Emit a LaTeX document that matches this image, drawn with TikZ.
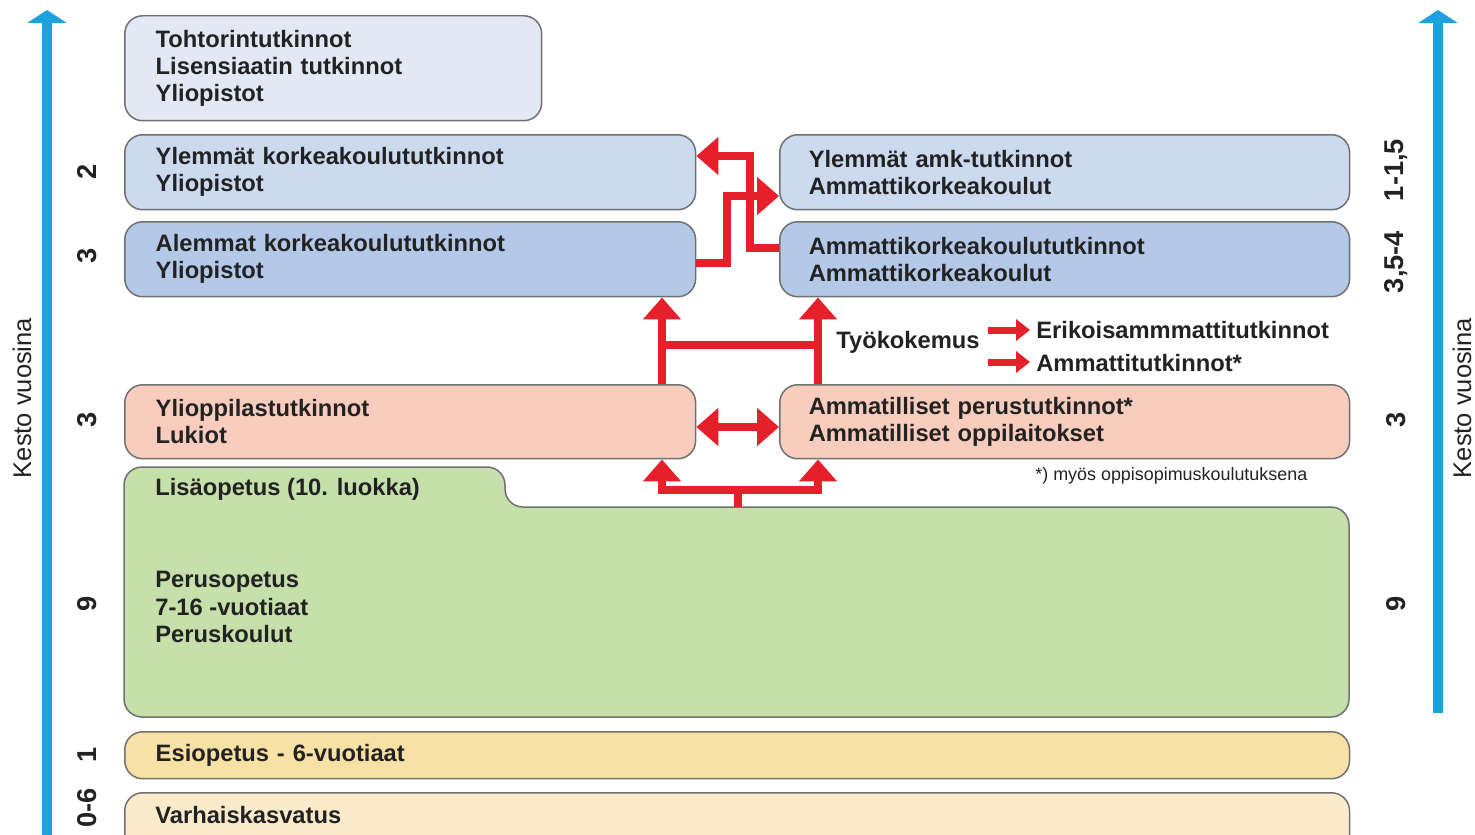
\documentclass[tikz,border=0pt]{standalone}
\usepackage{fontspec}
\setmainfont{Liberation Sans}
\usetikzlibrary{arrows.meta}
\definecolor{cTop}{HTML}{E3E8F5}
\definecolor{cYl}{HTML}{CCDAF0}
\definecolor{cAl}{HTML}{B4C8E8}
\definecolor{cPink}{HTML}{F9CDBE}
\definecolor{cGreen}{HTML}{C6E0AB}
\definecolor{cEsi}{HTML}{F8E1A4}
\definecolor{cVarh}{HTML}{FBEBCB}
\definecolor{cRed}{HTML}{E6202A}
\definecolor{cBlue}{HTML}{1AA3DE}
\definecolor{cBorder}{HTML}{707070}
\definecolor{cText}{HTML}{222222}
\tikzset{
  box/.style={draw=cBorder, line width=0.03cm, rounded corners=0.36cm, anchor=north west,
    inner xsep=0.62cm, inner ysep=0pt, align=left, text=cText,
    font=\fontsize{13.5}{15.4}\selectfont\bfseries},
  lbl/.style={text=cText, font=\fontsize{13.5}{15.4}\selectfont\bfseries, inner sep=0pt},
  num/.style={rotate=90, text=cText, font=\fontsize{15.5}{18}\selectfont\bfseries, inner sep=0pt},
  axis/.style={rotate=90, text=cText, font=\fontsize{14.5}{16}\selectfont, inner sep=0pt},
  redline/.style={draw=cRed, line width=0.16cm, line join=miter},
  redarr/.style={redline, -{Triangle[width=0.74cm,length=0.44cm]}},
  reddbl/.style={redline, {Triangle[width=0.74cm,length=0.44cm]}-{Triangle[width=0.74cm,length=0.44cm]}},
  smallarr/.style={draw=cRed, line width=0.14cm, -{Triangle[width=0.42cm,length=0.28cm]}},
  bluearr/.style={draw=cBlue, line width=0.19cm, -{Triangle[width=0.78cm,length=0.26cm]}},
}
\begin{document}
\begin{tikzpicture}[x=0.02cm, y=-0.02cm]
\useasboundingbox (0,0) rectangle (1475,835);
\clip (0,0) rectangle (1475,835);

% blue axes
\coordinate (axLb) at (47,850);
\coordinate (axLt) at (47,10);
\coordinate (axRb) at (1438,713);
\coordinate (axRt) at (1438,10);
\draw[bluearr] (axLb) -- (axLt);
\draw[bluearr] (axRb) -- (axRt);
\node[axis] (kestoL) at (22,398) {Kesto vuosina};
\node[axis] (kestoR) at (1462,398) {Kesto vuosina};

% left numbers
\node[num] (nL1) at (87,172) {2};
\node[num] (nL2) at (87,256) {3};
\node[num] (nL3) at (87,420) {3};
\node[num] (nL4) at (87,604) {9};
\node[num] (nL5) at (87,755) {1};
\node[num] (nL6) at (87,808) {0-6};
% right numbers
\node[num] (nR1) at (1396,170) {1-1,5};
\node[num] (nR2) at (1396,262) {3,5-4};
\node[num] (nR3) at (1396,420) {3};
\node[num] (nR4) at (1396,604) {9};

% boxes
\node[box, fill=cTop, text width=7.1cm, minimum height=2.1cm] (toht) at (124,15)
  {Tohtorintutkinnot\\Lisensiaatin tutkinnot\\Yliopistot};
\node[box, fill=cYl, text width=10.18cm, minimum height=1.5cm] (ylem) at (124,134)
  {Ylemmät korkeakoulututkinnot\\Yliopistot};
\node[box, fill=cAl, text width=10.18cm, minimum height=1.5cm] (alem) at (124,221)
  {Alemmat korkeakoulututkinnot\\Yliopistot};
\node[box, fill=cYl, text width=10.24cm, minimum height=1.5cm, inner xsep=0.58cm] (amkY) at (779,134)
  {Ylemmät amk-tutkinnot\\Ammattikorkeakoulut};
\node[box, fill=cAl, text width=10.24cm, minimum height=1.5cm, inner xsep=0.58cm] (amk) at (779,221)
  {Ammattikorkeakoulututkinnot\\Ammattikorkeakoulut};
\node[box, fill=cPink, text width=10.18cm, minimum height=1.48cm] (yo) at (124,384)
  {Ylioppilastutkinnot\\Lukiot};
\node[box, fill=cPink, text width=10.24cm, minimum height=1.48cm, inner xsep=0.58cm] (amm) at (779,384)
  {Ammatilliset perustutkinnot*\\Ammatilliset oppilaitokset};

% green folder shape
\draw[draw=cBorder, line width=0.03cm, fill=cGreen, rounded corners=0.36cm]
  (124,717) -- (124,467) -- (505,467) -- (505,507) -- (1349,507) -- (1349,717) -- cycle;
\coordinate (gtop) at (738,507);
\node[lbl, anchor=west] (lisa) at (155,489) {Lisäopetus (10. luokka)};
\node[lbl, anchor=west, align=left] (peru) at (155,607) {Perusopetus\\7-16 -vuotiaat\\Peruskoulut};

\node[box, fill=cEsi, text width=23.26cm, minimum height=0.94cm] (esi) at (124,731)
  {Esiopetus - 6-vuotiaat};
\node[box, fill=cVarh, text width=23.26cm, minimum height=1.4cm] (varh) at (124,792) {};
\node[lbl, anchor=west] (varhT) at (155,815) {Varhaiskasvatus};

% work experience
\node[lbl, anchor=west] (tyo) at (836,342) {Työkokemus};
\node[lbl, anchor=west] (erik) at (1036,330) {Erikoisammmattitutkinnot};
\node[lbl, anchor=west] (ammt) at (1036,363) {Ammattitutkinnot*};
\node[anchor=west, inner sep=0pt, text=cText, font=\fontsize{10.2}{12}\selectfont] (foot) at (1035,476)
  {*) myös oppisopimuskoulutuksena};
\coordinate (t1) at (988,330);
\coordinate (t2) at (988,362);
\draw[smallarr] (t1) -- ([xshift=-0.12cm]erik.west);
\draw[smallarr] (t2) -- ([xshift=-0.12cm]ammt.west |- t2);

% red connectors between higher education
\draw[redarr] (alem.east |- 0,263) -- (727,263) -- (727,196) -- (amkY.west |- 0,196);
\draw[redarr] (amk.west |- 0,248) -- (750,248) -- (750,156) -- (ylem.east |- 0,156);

% from upper secondary to higher education
\draw[redarr] (yo.north -| 662,0) -- (alem.south -| 662,0);
\draw[redarr] (amm.north -| 818,0) -- (amk.south -| 818,0);
\draw[redline] (662,345) -- (818,345);
\draw[reddbl] (yo.east |- 0,427) -- (amm.west |- 0,427);

% from basic education
\coordinate (tj) at (738,490);
\draw[redline] (gtop) -- (tj);
\draw[redarr] (tj) -- (662,490) -- (yo.south -| 662,0);
\draw[redarr] (tj) -- (818,490) -- (amm.south -| 818,0);
\end{tikzpicture}
\end{document}
